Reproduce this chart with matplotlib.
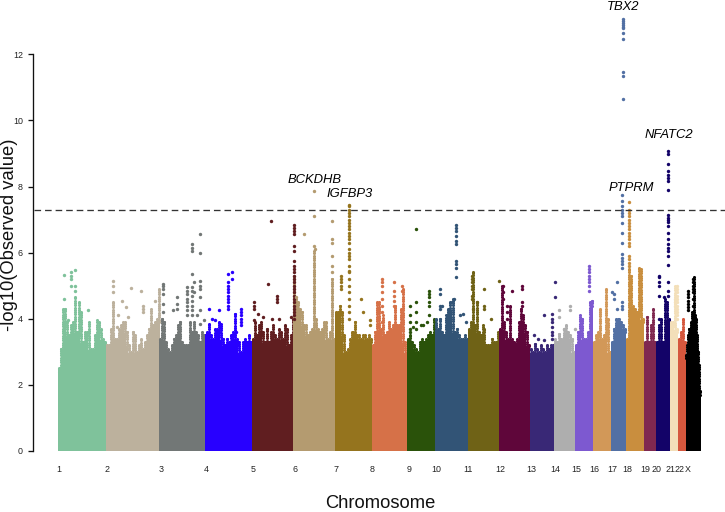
import matplotlib
matplotlib.use("Agg")
import matplotlib.pyplot as plt
import matplotlib.transforms as mtrans
import numpy as np

plt.rcParams['font.family'] = ['Liberation Sans', 'DejaVu Sans']

GENOME_START = 58
chr_names = ['1','2','3','4','5','6','7','8','9','10','11','12','13','14','15','16','17','18','19','20','21','22','X']
chr_sizes = [48,53.5,46,46.5,41.5,41.5,37,35.5,27.5,33,31,31,24,21,18,18,15,18,12,14,8,8,15]
chr_tick_pos = [58.7,107.3,160.7,206.7,252.7,294.7,336.3,372.3,408.7,436.3,468.3,500.3,531.3,555.3,576.3,594,612.3,627.3,645.3,656.7,670.7,680,687.3]
chr_colors = ['#7FC29B','#BCB19D','#727776','#2800FF','#601E20','#B49B70','#95741E','#D67148','#2A520A','#325476','#6F6216','#5F063A','#392876','#AEAEAE','#7D59D0','#D29858','#5270A4','#C98E3E','#7F2850','#130368','#F3DFB9','#D5573D','#000000']

top_1 = [2.5,3.1,4.3,4.3,3.9,3.5,3.8,3.9,4.65,3.6,4.5,4.2,3.3,3.6,3.6,3.9,3.1,3.1,3.5,3.95,3.9,3.7,3.4,3.3]
top_2 = [3.2,3.2,3.7,4.5,3.4,3.4,3.7,3.8,3.9,3.9,3.6,3.2,3.0,3.6,3.5,3.0,3.2,3.4,3.1,3.3,3.5,3.7,4.3,3.8,3.9,4.0,4.9]
top_3 = [3.4,4.0,3.9,3.3,3.1,3.0,3.2,3.4,3.5,3.8,3.9,3.3,3.2,3.2,3.2,3.9,3.6,3.9,3.6,3.5,3.3,3.6,3.5]
top_4 = [3.6,3.85,3.5,3.4,3.7,3.7,3.9,3.85,3.4,3.2,3.4,3.3,3.5,3.6,4.15,3.4,3.3,3.0,3.3,3.4,3.3,3.5,3.3]
top_5 = [3.4,3.9,3.5,3.8,3.9,3.6,3.3,3.7,3.3,3.6,3.8,3.5,3.4,3.7,3.6,3.4,3.8,3.7,3.2,3.5,4.0]
top_6 = [5.3,4.6,4.5,4.3,4.2,3.8,3.8,3.5,3.6,3.7,6.05,4.0,3.7,3.6,3.7,3.9,3.9,3.4,3.6,5.2,3.4]
top_7 = [4.2,4.2,4.4,4.2,3.5,3.0,3.1,3.4,3.6,3.6,3.9,3.5,3.5,3.4,3.5,3.5,3.4,3.5,3.4]
top_8 = [3.2,3.6,4.5,4.5,3.7,4.1,3.5,3.6,3.9,3.7,3.8,4.4,3.8,3.8,4.3,4.9,3.3,3.0]
top_9 = [3.4,3.5,3.3,3.2,3.1,3.0,3.3,3.4,3.3,3.4,3.5,3.6,3.5,4.0]
top_10 = [4.0,3.7,4.0,3.6,3.5,4.1,4.3,4.5,4.6,3.6,3.7,3.5,3.4,3.4,3.5,3.4]
top_11 = [3.7,3.9,5.4,3.8,4.5,3.6,3.5,3.8,3.7,3.2,3.2,3.2,3.4,3.3,3.3,3.6]
top_12 = [3.7,5.0,3.9,3.6,3.4,4.4,3.4,3.3,3.4,3.9,4.3,4.1,3.8,3.6,3.2]
top_13 = [3.1,3.0,3.25,3.1,3.0,3.2,3.1,3.0,3.2,3.1,3.2,3.2]
top_14 = [3.4,3.3,3.55,3.4,3.4,3.7,3.8,3.6,3.5,3.4,3.0]
top_15 = [3.2,3.6,4.1,4.0,3.4,3.4,3.6,4.5,4.55]
top_16 = [3.3,3.5,3.6,4.3,3.4,3.5,4.9,4.0,3.0]
top_17 = [3.3,3.7,4.0,4.0,4.0,3.9,3.8,3.7]
top_18 = [3.4,5.5,5.3,4.4,4.3,4.2,5.55,5.5,4.0]
top_19 = [3.3,4.05,3.3,3.8,4.3,3.3]
top_20 = [3.3,3.8,4.0,3.3,4.6,4.5,4.0]
top_21 = [3.9,3.9,5.0,3.7]
top_22 = [3.4,3.6,4.0,3.3]
top_X = [2.9,3.2,3.5,3.7,3.7,3.9,4.2,4.2,5.25,4.1,4.0,3.5,3.0,2.6,1.8]
chr_tops = [top_1,top_2,top_3,top_4,top_5,top_6,top_7,top_8,top_9,top_10,top_11,top_12,top_13,top_14,top_15,top_16,top_17,top_18,top_19,top_20,top_21,top_22,top_X]

# chromosome index, genome position, values of that locus
hit_chrom = [0,0,0,0,0,
             1,1,1,1,1,1,1,1,1,1,
             2,2,2,2,2,2,2,2,2,
             3,3,3,3,3,3,3,3,
             4,4,4,4,4,4,4,4,4,4,
             5,5,5,5,5,
             6,6,6,6,6,
             7,7,7,
             8,8,8,8,8,8,8,8,
             9,9,9,9,9,9,9,9,
             10,10,10,10,10,10,
             11,11,11,11,
             12,12,12,12,12,
             13,13,13,13,
             14,
             16,16,16,16,16,
             17,17,
             19,19,19,
             20,20,
             22,22]
hit_pos = [63.7,71.5,75,67.7,88.3,
           113.3,130.7,141.3,142.7,122.3,126,155,118.3,128.3,117,
           163,187.3,192,200.3,194.3,196.7,203.7,176.7,172.7,
           209.3,218.7,212,215,228.3,231.7,241,235.7,
           254,257.7,262.7,268.3,276.7,271.7,279.3,290.7,271,293.8,
           314.3,304,332.3,315,296,
           348.7,340.7,360.7,363.3,370,
           381.7,394,401.7,
           416,410.3,421.3,415.7,429.3,413,423.3,426.7,
           440,442.3,451.7,454.3,455.7,463.3,460,466,
           472.3,476.7,484,491,499,473,
           503,507.3,511.7,521.7,
           534.3,544.3,551.7,537.7,554.7,
           559,564,570.3,574.7,
           589.3,
           622.3,622.7,617.3,612.3,614,
           629.3,629.3,
           658.7,664,667.7,
           677.3,675,
           688.3,693.3]
hit_vals = [[5.33,4.6],[5.4,5.3,5.2,5.0],[5.46,5.0,4.85],[3.95],[4.25],
            [5.15,5.0,4.8],[4.93],[4.85],[4.4,4.3,4.2],[4.55],[4.35],[4.55],[4.1],[4.05],[3.75],
            [5.05,5.0,4.9,4.75,4.45,4.2],[4.95,4.85,4.75,4.6,4.5,4.4,4.25,4.1],[6.25,6.15,6.05,5.35,4.95,4.85,4.7,4.55,4.4,4.25,4.1],[6.55,6.0,5.15,5.0,4.9,4.65,4.25,3.85],[5.1,4.8],[4.1],[3.95],[4.65,4.45,4.3],[4.25],
            [4.3],[4.25],[4.0],[3.95],[5.35,5.1,5.0,4.9,4.8,4.7,4.6,4.5,4.4,4.3],[5.4,5.2],[4.3,4.2,4.1,4.0,3.9,3.8],[3.6],
            [4.5,4.4,4.3,3.95],[4.15],[4.05],[5.05],[4.7,4.6,4.5],[4.0],[4.0],[4.05],[6.95],[6.85,6.75,6.65,6.55,6.2,6.05,5.75,5.6,5.5,5.4,5.3,5.2,5.1,5.0,4.9,4.8,4.7,4.6,4.5,4.4,4.3,4.2,4.1,4.0],
            [7.85,7.1,6.2],[6.55],[6.95,6.4,6.3,5.9,5.6,5.4],[6.1],[4.65],
            [7.45,7.4,7.3,7.2,7.1,7.0,6.9,6.8,6.7,6.6,6.5,6.4,6.3,6.1,6.0,5.9,5.8,5.6,5.45,5.4,5.2,5.0,4.8,4.6,4.4,4.2,4.0],[5.3,5.2,5.1,5.0,4.9],[4.6],[4.2],[3.95,3.8],
            [5.2,5.1,5.0,4.8,4.6,4.4,4.2,3.9],[5.1,4.85,4.7,4.55,4.4],[5.0,4.85],
            [6.72],[4.4,4.1,3.9,3.7,3.6],[3.8],[4.5,4.2,3.9,3.7],[4.85,4.75,4.65,4.5,4.4,4.1],[3.75],[3.8],[3.9],
            [4.9,4.75,4.4,4.3],[4.4],[4.5],[4.6],[6.85,6.75,6.65,6.5,6.35,6.25,5.75,5.65,5.55,5.25],[4.15],[4.1],[3.9],
            [5.3,5.2,5.1,5.0,4.9,4.7,4.6],[4.5],[4.9,4.4,4.3],[4.0],[5.15],[4.3],
            [5.0,4.8,4.6],[4.4,4.2,4.0],[4.85],[5.0,4.9,4.5,4.4],
            [3.5],[3.35,4.1],[4.15,4.0,3.9,3.75,3.6,3.5,3.4],[3.4],[5.1,4.65],
            [4.25,4.05],[3.7],[4.4,4.25],[3.7],
            [5.6,5.5,5.4,5.3,5.2,5.1,5.0,4.85],
            [7.75,7.55,7.4,7.3,7.2,7.1,6.9,6.6,6.3,5.95,5.85,5.75,5.65,5.55,4.5,4.4,4.3],[13.08,13.02,12.96,12.9,12.84,12.78,12.64,12.46,11.45,11.33,10.66],[5.1,4.3],[4.8],[4.75,4.6],
            [7.53,7.3,7.2,7.1,7.0,6.9,6.8,6.7,6.6,6.5,6.4,6.3,6.2],[5.9,5.8,5.7,5.6],
            [5.3,5.25,5.1,5.0,4.7,4.0],[4.65],[9.07,8.98,8.67,8.46,8.36,8.26,8.16,7.9,7.13,7.05,6.98,6.92,6.8,6.58,6.4,6.27,6.15,6.05,5.9,5.64,5.1,4.83,4.7],
            [5.0,4.9,4.8,4.7,4.6,4.5,4.4,4.3,4.2,4.1,4.0],[4.6,4.5,4.4],
            [4.85,4.75,4.65,4.55,4.45,4.35,4.25],[5.2,5.1,5.0,4.9,4.8,4.6,4.4]]

gene_names = ['TBX2','BCKDHB','IGFBP3','PTPRM','NFATC2']
gene_pos = [623.5,315,350,631,669]
gene_vals = [13.42,8.19,7.76,7.97,9.56]

GW_LINE = 7.3
y_ticks = [0,2,4,6,8,10,12]

fig = plt.figure(figsize=(7.25,5.12), dpi=100)
ax = fig.add_axes([0,0,1,1])
ax.set_xlim(0,725)
ax.set_ylim(-61/33.06, 451/33.06)
ax.patch.set_alpha(0)

start = GENOME_START
for size, tops, col in zip(chr_sizes, chr_tops, chr_colors):
    w = size/len(tops)
    xs = [start+(i+0.5)*w for i in range(len(tops))]
    lows = [min(tops[max(i-1,0):i+2]) for i in range(len(tops))]
    ax.bar(xs, [l-0.05 for l in lows], width=w*1.06, color=col, linewidth=0, zorder=2)
    for x, low, top in zip(xs, lows, tops):
        ys = np.append(np.arange(low-0.1, top, 0.07), top)
        ax.scatter([x]*len(ys), ys, s=5, color=col, linewidths=0, zorder=2)
    start += size

for c, x, ys in zip(hit_chrom, hit_pos, hit_vals):
    ax.scatter([x]*len(ys), ys, s=6, color=chr_colors[c], linewidths=0, zorder=3, clip_on=False)

ax.axhline(GW_LINE, xmin=33.5/725, color='#333333', lw=0.95, dashes=(5,3), zorder=4)

for name, x, y in zip(gene_names, gene_pos, gene_vals):
    ax.text(x, y, name, style='italic', fontsize=9.4, ha='center', va='center', color='black')

for s in ['top','right','bottom']:
    ax.spines[s].set_visible(False)
ax.spines['left'].set_position(('data',33.5))
ax.spines['left'].set_bounds(0,12)
ax.spines['left'].set_linewidth(0.95)
ax.spines['left'].set_color('#111111')
ax.set_yticks(y_ticks)
ax.tick_params(axis='y', length=3.6, width=0.95, pad=4.0, labelsize=6.4, color='#111111', labelcolor='#222222')
ax.set_xticks([])
trans = mtrans.blended_transform_factory(ax.transData, ax.transAxes)
for x, name in zip(chr_tick_pos, chr_names):
    ax.text(x, 1-470/512, name, transform=trans, fontsize=6.4, ha='center', va='center', color='#222222')

ax.text(380, 1-503.5/512, 'Chromosome', transform=trans, fontsize=13.2, ha='center', va='center', color='#111111')
ax.text(9.2, 1-235/512, '-log10(Observed value)', transform=trans, fontsize=13.2, rotation=90, ha='center', va='center', color='#111111')

fig.savefig('out.png', dpi=100)
